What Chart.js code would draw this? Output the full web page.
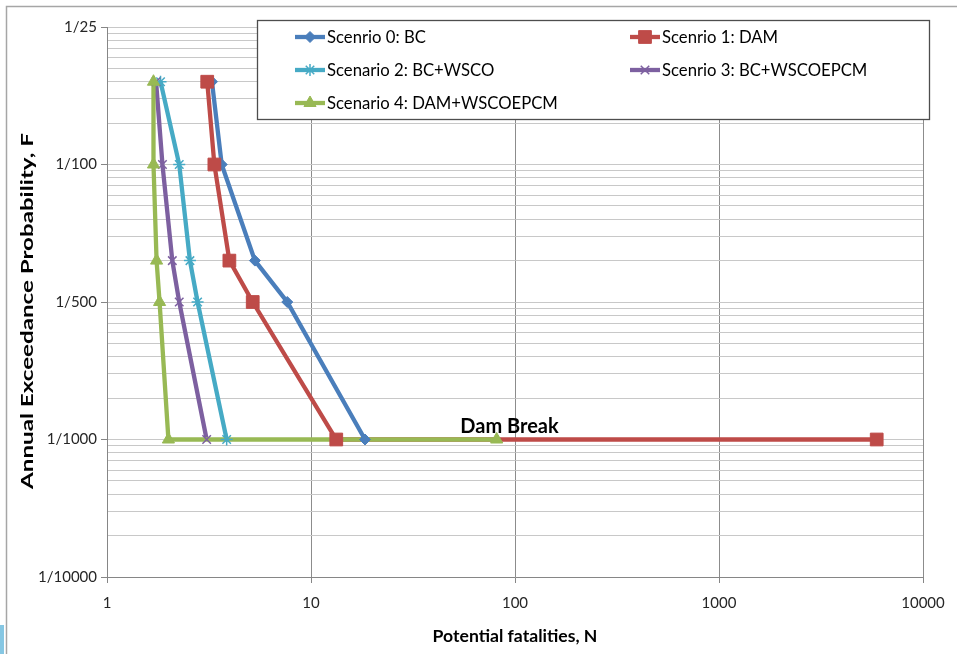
<!DOCTYPE html>
<html>
<head>
<meta charset="utf-8">
<script src="https://cdn.jsdelivr.net/npm/chart.js@4.4.1/dist/chart.umd.min.js"></script>
<style>
  html, body { margin: 0; padding: 0; background: #fff; }
  #wrap { position: relative; width: 957px; height: 654px; }
</style>
</head>
<body>
<div id="wrap"><canvas id="chart" width="957" height="654"></canvas></div>
<script>
// series labels, as written on the original chart
const seriesNames = [
    'Scenrio 0: BC',
    'Scenrio 1: DAM',
    'Scenario 2: BC+WSCO',
    'Scenrio 3: BC+WSCOEPCM',
    'Scenario 4: DAM+WSCOEPCM',
];

// N (potential fatalities) and F (annual exceedance) per scenario
const bcN = [3.27, 3.65, 5.31, 7.65, 18.4];
const bcF = [0.4, 0.1, 0.02, 0.01, 0.001];
const damN = [3.10, 3.36, 3.98, 5.18, 13.3, 5930];
const damF = [0.4, 0.1, 0.02, 0.01, 0.001, 0.001];
const wscoN = [1.83, 2.26, 2.55, 2.78, 3.86];
const wscoF = [0.4, 0.1, 0.02, 0.01, 0.001];
const epcmN = [1.74, 1.87, 2.09, 2.26, 3.08];
const epcmF = [0.4, 0.1, 0.02, 0.01, 0.001];
const damEpcmN = [1.69, 1.69, 1.75, 1.81, 2.0, 81.3];
const damEpcmF = [0.4, 0.1, 0.02, 0.01, 0.001, 0.001];

// y axis: decade positions and the labels printed on them
const yTickValues = [1, 0.1, 0.01, 0.001, 0.0001];
const yTickLabels = ['1/25', '1/100', '1/500', '1/1000', '1/10000'];
const xTickValues = [1, 10, 100, 1000, 10000];

const xTitle = 'Potential fatalities, N';
const yTitle = 'Annual Exceedance Probability, F';
const annotationText = 'Dam Break';
const annotationN = 94;
const annotationF = 0.001;

const seriesN = [bcN, damN, wscoN, epcmN, damEpcmN];
const seriesF = [bcF, damF, wscoF, epcmF, damEpcmF];
const colors = ['#4a7ebb', '#be4b48', '#46aac5', '#7d60a0', '#98b954'];
const pointStyles = ['rectRot', 'rect', 'star', 'crossRot', 'triangle'];
const pointSizes = [5.5, 9, 6, 6, 7];
const pointBorders = [1, 1, 1.5, 1.5, 1];

const FONT = 'Lato';

function isPow10(v) {
    const l = Math.log10(v);
    return Math.abs(l - Math.round(l)) < 1e-6;
}
function isWholeMantissa(v) {
    const m = v / Math.pow(10, Math.floor(Math.log10(v) + 1e-9));
    return Math.abs(m - Math.round(m)) < 1e-6;
}

// lines first (all series), markers on top, like the excel original
const datasets = [];
seriesN.forEach((ns, i) => {
    const pts = ns.map((n, k) => ({x: n, y: seriesF[i][k]}));
    datasets.push({
        label: seriesNames[i],
        data: pts,
        borderColor: colors[i],
        borderWidth: 4.3,
        pointRadius: 0,
        fill: false,
        tension: 0,
        order: 20 - i,
    });
    datasets.push({
        label: seriesNames[i] + ' markers',
        data: pts,
        showLine: false,
        pointStyle: pointStyles[i],
        pointRadius: pointSizes[i],
        pointBackgroundColor: colors[i],
        pointBorderColor: colors[i],
        pointBorderWidth: pointBorders[i],
        order: 10 - i,
    });
});

const backgroundPlugin = {
    id: 'background',
    beforeDraw(chart) {
        const ctx = chart.ctx;
        ctx.save();
        ctx.fillStyle = '#fff';
        ctx.fillRect(0, 0, chart.width, chart.height);
        ctx.strokeStyle = '#a6a6a6';
        ctx.lineWidth = 1.5;
        ctx.beginPath();
        ctx.moveTo(6.5, chart.height);
        ctx.lineTo(6.5, 6.5);
        ctx.lineTo(chart.width, 6.5);
        ctx.stroke();
        ctx.fillStyle = '#86c7e3';
        ctx.fillRect(0, 625, 4, chart.height - 625);
        ctx.restore();
    },
};

// the y title in the original is stretched along its length
const yTitlePlugin = {
    id: 'yTitle',
    afterDraw(chart) {
        const ctx = chart.ctx;
        const area = chart.chartArea;
        ctx.save();
        ctx.translate(28, (area.top + area.bottom) / 2 + 9);
        ctx.rotate(-Math.PI / 2);
        ctx.scale(1.42, 1);
        ctx.font = 'bold 17px ' + FONT;
        ctx.fillStyle = '#000';
        ctx.textAlign = 'center';
        ctx.textBaseline = 'middle';
        ctx.fillText(yTitle, 0, 0);
        ctx.restore();
    },
};

const boxLegendPlugin = {
    id: 'boxLegend',
    afterDraw(chart) {
        const ctx = chart.ctx;
        ctx.save();
        ctx.fillStyle = '#fff';
        ctx.fillRect(257, 20, 672, 99);
        ctx.strokeStyle = '#4d4d4d';
        ctx.lineWidth = 1.3;
        ctx.strokeRect(257.5, 20.5, 672, 99);
        const colX = [295, 630];
        const rowY = [37, 70, 103];
        seriesNames.forEach((name, i) => {
            const x = colX[i % 2];
            const y = rowY[Math.floor(i / 2)];
            ctx.strokeStyle = colors[i];
            ctx.fillStyle = colors[i];
            ctx.lineWidth = 4.3;
            ctx.beginPath();
            ctx.moveTo(x, y);
            ctx.lineTo(x + 30, y);
            ctx.stroke();
            ctx.lineWidth = pointBorders[i];
            Chart.helpers.drawPoint(ctx, {
                pointStyle: pointStyles[i],
                radius: pointSizes[i],
                borderWidth: pointBorders[i],
                rotation: 0,
            }, x + 15, y);
            ctx.fillStyle = '#000';
            ctx.font = '16.7px ' + FONT;
            ctx.textBaseline = 'middle';
            ctx.textAlign = 'left';
            ctx.fillText(name, x + 32, y + 1);
        });

        // dam break note, placed through the scales
        const xs = chart.scales.x, ys = chart.scales.y;
        ctx.font = 'bold 20px ' + FONT;
        ctx.textAlign = 'center';
        ctx.textBaseline = 'alphabetic';
        ctx.fillStyle = '#000';
        ctx.fillText(annotationText, xs.getPixelForValue(annotationN), ys.getPixelForValue(annotationF) - 7);
        ctx.restore();
    },
};

new Chart(document.getElementById('chart'), {
    type: 'line',
    data: {datasets: datasets},
    options: {
        responsive: false,
        animation: false,
        layout: {padding: {top: 27, right: 34, left: 0, bottom: 0}},
        plugins: {
            legend: {display: false},
            tooltip: {enabled: false},
        },
        scales: {
            x: {
                type: 'logarithmic',
                min: 1,
                max: 10000,
                afterBuildTicks: s => { s.ticks = s.ticks.filter(t => isPow10(t.value)); },
                afterFit: s => { s.height = 77; },
                border: {color: '#868686', width: 1},
                grid: {color: '#8c8c8c', tickLength: 6, tickColor: '#868686'},
                ticks: {
                    autoSkip: false,
                    maxRotation: 0,
                    padding: 11,
                    color: '#262626',
                    font: {family: FONT, size: 15},
                    callback: v => {
                        const i = xTickValues.findIndex(t => Math.abs(t - v) < 1e-9 * t);
                        return i >= 0 ? String(xTickValues[i]) : '';
                    },
                },
                title: {
                    display: true,
                    text: xTitle,
                    color: '#000',
                    font: {family: FONT, size: 17.6, weight: 'bold'},
                    padding: {top: 0, bottom: 7},
                },
            },
            y: {
                type: 'logarithmic',
                min: 0.0001,
                max: 1,
                afterBuildTicks: s => { s.ticks = s.ticks.filter(t => isWholeMantissa(t.value)); },
                afterFit: s => { s.width = 107; },
                border: {color: '#868686', width: 1},
                grid: {
                    color: '#c8c8c8',
                    tickLength: 6,
                    tickColor: c => (c.tick && isPow10(c.tick.value)) ? '#868686' : 'rgba(0,0,0,0)',
                },
                ticks: {
                    autoSkip: false,
                    padding: 4,
                    color: '#262626',
                    font: {family: FONT, size: 15},
                    callback: v => {
                        const i = yTickValues.findIndex(t => Math.abs(t - v) < 1e-9);
                        return i >= 0 ? yTickLabels[i] : '';
                    },
                },
            },
        },
    },
    plugins: [backgroundPlugin, yTitlePlugin, boxLegendPlugin],
});
</script>
</body>
</html>
